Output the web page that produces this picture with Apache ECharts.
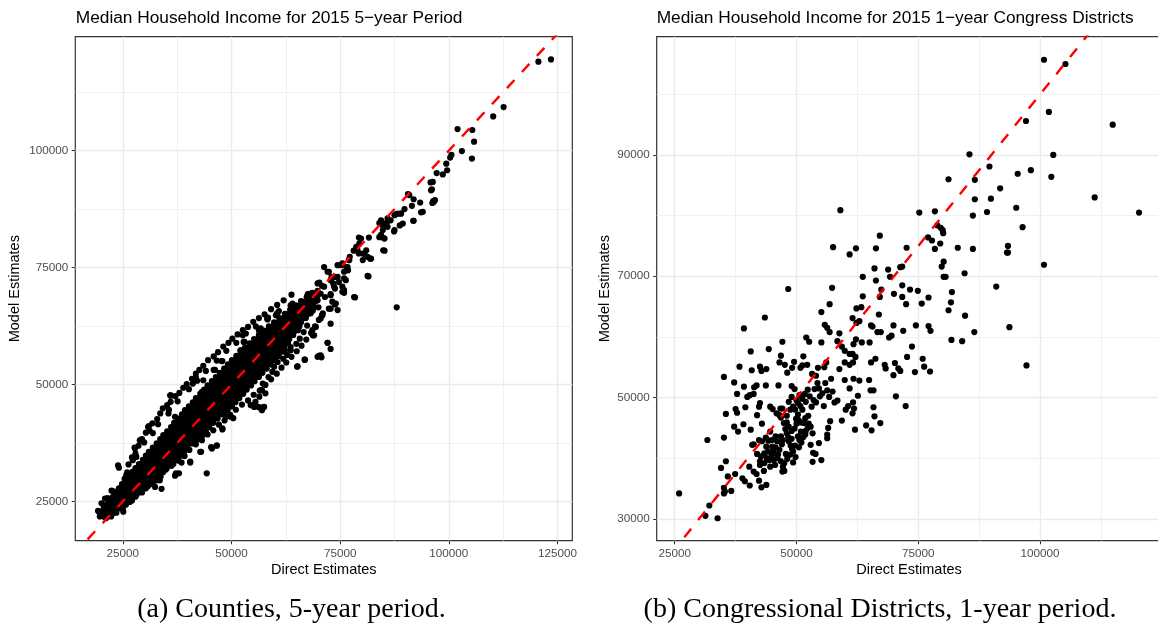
<!DOCTYPE html>
<html><head><meta charset="utf-8">
<script src="https://cdn.jsdelivr.net/npm/echarts@6.0.0/dist/echarts.min.js"></script>
<style>html,body{margin:0;padding:0;background:#fff}#c{width:1158px;height:630px}</style>
</head><body><div id="c"></div>
<script>
// ---------- texts ----------
const leftTitle = 'Median Household Income for 2015 5\u2212year Period';
const rightTitle = 'Median Household Income for 2015 1\u2212year Congress Districts';
const xName = 'Direct Estimates';
const yName = 'Model Estimates';
const captionA = '(a) Counties, 5-year period.';
const captionB = '(b) Congressional Districts, 1-year period.';

// ---------- ticks ----------
const countyTicks = [25000, 50000, 75000, 100000, 125000];
const countyMinor = [37500, 62500, 87500, 112500];
const districtXTicks = [25000, 50000, 75000, 100000];
const districtXMinor = [37500, 62500, 87500, 112500];
const districtYTicks = [30000, 50000, 70000, 90000];
const districtYMinor = [40000, 60000, 80000, 100000];
const identityLine = [10000, 140000];

// ---------- county data (dense core: each row = [model, direct, direct, ...]) ----------
const countyCoreRows = [
 [21800, 19700, 20600, 21500, 22300],
 [22600, 20100, 21000, 21900, 22800, 23500],
 [23500, 20600, 21600, 22400, 23300, 24200, 25000],
 [24300, 21300, 22100, 23100, 24000, 24800, 25700],
 [25200, 21800, 22800, 23600, 24600, 25400, 26300, 27100],
 [26000, 22700, 23500, 24300, 25200, 26200, 27000, 27900],
 [26900, 23300, 24200, 25100, 26000, 26800, 27800, 28600, 29400],
 [27800, 24100, 25000, 25800, 26700, 27700, 28500, 29400, 30300],
 [28700, 24800, 25700, 26700, 27500, 28400, 29300, 30200, 31100, 31800],
 [29500, 25600, 26500, 27400, 28300, 29200, 30100, 31000, 31800, 32700],
 [30400, 26500, 27300, 28200, 29100, 30000, 30900, 31800, 32600, 33500],
 [31300, 27200, 28100, 29000, 29900, 30800, 31600, 32500, 33400, 34300],
 [32100, 27900, 28900, 29700, 30600, 31500, 32400, 33300, 34200, 35100],
 [33000, 28700, 29600, 30500, 31400, 32300, 33200, 34100, 35000, 35900, 36600],
 [33900, 29600, 30400, 31300, 32200, 33100, 34000, 34900, 35800, 36600, 37500],
 [34800, 30300, 31200, 32100, 33000, 33900, 34800, 35700, 36500, 37400, 38400],
 [35600, 31000, 32000, 32900, 33800, 34600, 35500, 36400, 37300, 38200, 39100],
 [36500, 31900, 32800, 33700, 34600, 35500, 36400, 37300, 38100, 39000, 39800],
 [37400, 32800, 33700, 34500, 35400, 36300, 37200, 38100, 39000, 39900, 40800, 41500],
 [38300, 33600, 34500, 35400, 36300, 37200, 38000, 38900, 39800, 40700, 41600, 42400],
 [39200, 34300, 35300, 36200, 37100, 38000, 38900, 39800, 40700, 41600, 42500, 43400],
 [40000, 35200, 36100, 37000, 37900, 38800, 39700, 40600, 41400, 42300, 43200, 44100],
 [40900, 36100, 36900, 37800, 38700, 39600, 40500, 41400, 42300, 43200, 44100, 44900],
 [41800, 36800, 37800, 38700, 39600, 40500, 41400, 42300, 43200, 44000, 44900, 45800],
 [42700, 37700, 38600, 39500, 40400, 41300, 42200, 43100, 44000, 44900, 45800, 46800],
 [43600, 38600, 39500, 40400, 41300, 42200, 43100, 44000, 44900, 45800, 46700, 47500, 48300],
 [44500, 39300, 40300, 41200, 42100, 43000, 43900, 44800, 45700, 46600, 47500, 48400, 49100],
 [45300, 40200, 41100, 42000, 42900, 43800, 44700, 45600, 46500, 47400, 48300, 49200, 50100],
 [46200, 41100, 42000, 42900, 43800, 44700, 45600, 46500, 47400, 48300, 49200, 50100, 50900],
 [47100, 41800, 42800, 43700, 44600, 45500, 46400, 47300, 48200, 49100, 50000, 50900, 51800],
 [48000, 42800, 43700, 44600, 45500, 46400, 47300, 48200, 49100, 50000, 50900, 51800, 52700],
 [48900, 43700, 44600, 45500, 46400, 47300, 48200, 49100, 50000, 50900, 51800, 52700, 53500],
 [49800, 44500, 45500, 46400, 47300, 48200, 49100, 50000, 50900, 51800, 52700, 53600, 54500],
 [50700, 45500, 46400, 47300, 48200, 49100, 50000, 50900, 51800, 52700, 53600, 54500, 55300],
 [51600, 46400, 47300, 48200, 49100, 50000, 50900, 51800, 52700, 53600, 54500, 55400, 56300],
 [52500, 47300, 48200, 49100, 50000, 50900, 51800, 52700, 53600, 54500, 55400, 56300, 57100],
 [53400, 48300, 49100, 50000, 50900, 51800, 52700, 53600, 54500, 55400, 56300, 57200, 58100],
 [54300, 49200, 50100, 51000, 51900, 52800, 53700, 54600, 55500, 56400, 57300, 58200, 59000],
 [55200, 50100, 51000, 51900, 52800, 53700, 54600, 55500, 56400, 57300, 58200, 59100, 59900],
 [56100, 51100, 52000, 52900, 53800, 54700, 55600, 56500, 57400, 58300, 59200, 60100, 60900],
 [57000, 52100, 53000, 53900, 54800, 55700, 56600, 57500, 58400, 59300, 60200, 61000, 61700],
 [57900, 53100, 54000, 54900, 55800, 56700, 57600, 58500, 59400, 60300, 61200, 62100],
 [58800, 54200, 55100, 56000, 56900, 57800, 58700, 59600, 60500, 61400, 62300, 63000],
 [59700, 55200, 56100, 57000, 57900, 58800, 59700, 60600, 61500, 62400, 63300],
 [60600, 56300, 57200, 58100, 59000, 59900, 60800, 61700, 62600, 63500, 64200],
 [61500, 57400, 58300, 59200, 60100, 61000, 61900, 62800, 63700, 64600],
 [62400, 58600, 59500, 60400, 61300, 62200, 63100, 64000, 64900, 65600],
 [63300, 59800, 60700, 61600, 62500, 63400, 64300, 65200, 66000],
 [64200, 61000, 61900, 62800, 63700, 64600, 65500, 66400, 67100],
 [65100, 62300, 63200, 64100, 65000, 65900, 66800, 67600],
 [66000, 63500, 64500, 65400, 66300, 67200, 68100],
 [66900, 64800, 65800, 66800, 67800, 68700],
 [67800, 66000, 67100, 68200, 69300],
 [68700, 67300, 68500, 69700],
 [69600, 68600, 69900]
];

// ---------- county data: fringe of the dense band ([direct, model]) ----------
const countyFringe = [
 [24600,27600],[25400,29800],[26000,31200],[26300,32900],[27100,34400],[27900,35200],[28600,36900],[29400,38300],
 [30300,39700],[31200,40100],[31800,41700],[32900,42600],[33600,43800],[34200,44900],[35200,45600],[36000,46300],
 [37100,47500],[38000,48200],[38900,49300],[39700,50100],[40900,51200],[41800,52300],[42600,53100],[43500,54000],
 [44600,55200],[45900,56000],[46900,56900],[48100,58100],[49300,58900],[50200,59800],[51400,60700],[52600,61600],
 [53800,62300],[55000,63400],[56300,64200],[57600,65000],[59100,66100],[60500,67000],[62000,68000],[63800,69200],
 [25800,30600],[27300,33800],[29900,37600],[31900,39600],[33100,41500],[35600,44600],[37600,46400],[40200,49000],
 [42100,50800],[44100,52900],[46600,55100],[48800,57200],[51100,58900],[53300,60900],[55600,62400],[58400,64300],
 [60900,65700],
 [25100,22800],[26600,24900],[28100,26300],[29300,27100],[30900,28600],[32200,29400],[33700,30300],[34900,31800],
 [36200,32600],[37800,33700],[39200,34700],[40300,36000],[41800,37200],[43200,38100],[44500,39300],[45800,40200],
 [47100,41400],[48400,42300],[49700,43500],[51000,44600],[52400,45700],[53800,46600],[55100,47800],[56500,48700],
 [57800,49900],[59100,51100],[60400,52300],[61500,53600],[62600,54700],[63800,55900],[65000,57100],[66100,58300],
 [67200,59600],[68300,61000],[69200,62400],[70100,63800],[71000,65200]
];

// ---------- county data (individually read points: [direct, model]) ----------
const countyScatter = [
 [120600,119000],[123500,119500],[112600,109300],[110200,107300],[102000,104600],[105400,104400],[105800,101900],
 [103000,99900],[105300,98300],[100600,99100],[100300,98500],[99400,97200],[99600,95800],[97200,95200],[98600,94900],
 [95800,93200],[96100,91700],[96400,89200],[96200,88800],[90600,90700],[91900,89600],[93400,88900],[91500,88200],
 [93600,86800],[91800,85000],[89800,87500],[88000,86500],[88900,86600],[85900,85500],[86600,85100],[84000,84500],
 [84900,83800],[85700,84500],[87400,82700],[88700,84000],[84400,82000],[85000,81300],[79300,81400],[81600,81400],
 [84900,78700],[81300,73200],[81900,76900],[80200,76600],[79300,78000],[78100,78600],[78700,79400],[81000,78700],
 [80600,77900],[78200,68700],[71300,75100],[74400,75500],[75500,75900],[76400,75100],[77000,76600],[72400,74100],
 [73000,73000],[73800,73000],[74700,71900],[75900,72700],[76800,74400],[77200,77300],[70200,71800],[70800,71100],
 [73400,71600],[73800,70500],[75500,70900],[75900,69600],[67600,69300],[68100,68700],[69100,69400],[69800,70000],
 [72800,69300],[71500,68700],
 [88000,66500],[73800,67100],[72400,66200],[70800,64800],[68700,65800],[70000,66500],[66600,66900],[67900,67400],
 [65700,65500],[64900,64400],[64000,67100],[63600,65500],[62800,64400],[60200,64800],[58300,63900],[62300,63000],
 [61500,62300],[64000,61900],[65300,61600],[66600,61200],[67400,62600],[68700,60500],[72100,58900],[72800,57600],
 [69800,55900],[70500,56200],[66800,55300],[65100,53800],[65700,59800],[64900,58700],[63600,58000],[62300,57300],
 [62800,56300],[61900,55500],[60200,56600],[60600,54800],[59800,53800],[59400,52700],[58500,51600],[57200,50200],
 [56800,48800],[57200,45100],[55200,45200],[56400,47400],[55500,46300],[56400,61600],[58100,60200],[56000,59100],
 [57200,58000],[56400,57000],[58100,55900],[52600,60500],[53000,59100],[52100,57300],[51300,55900],[47900,55000],
 [46200,53100],[48500,53400],[41800,51400],[43500,50900],[41100,50200],[43200,48400],[46000,49200],[47000,46700],
 [47900,44500],[48700,43100],[50400,42800],[47900,40600],[46600,36900],[45300,36600],[43000,35600],[44300,31000],
 [40500,33300],[37900,31000],[37200,31000],[36000,47600],[31000,41100],[29000,38100],[27700,36500],[23900,32700],
 [24100,32200],[23000,27100],[19400,22900],[20500,22500],[21100,21400],[22400,22200],[22800,23900],[21500,25700],
 [21900,24600],[24900,24600],[26200,25400],[27000,26800],[28300,28200],[25800,28900],[24900,27500],
 [36000,47700],[28900,38000],[27800,36300],[30800,40900],[28100,34500],[35500,43800],[37000,43100],
 [40500,33500],[38500,33300],[45500,36300],[46600,37000],[42800,35600],[47900,40400],[54500,45600],[57000,44500],
 [56200,45200],[57800,48100],[57000,48800],[20900,25600],[20100,24600],[19300,23000],[20900,21900],[22400,27300],
 [24700,28100],[25800,29500],[27000,30900],[28100,29500],[30800,28300],[33500,29500],[37000,30500],[32400,28100],
 [33900,27700],
 [41700,51400],[35900,47700],[47700,55000],[45900,53100],[52100,57300],[52800,59100],[56300,61600],[56700,62000],
 [58200,64100],[60500,65000],[63600,66900],[64400,66600],[67500,69100],[67800,69400],[69800,71600],[72100,58900],
 [66900,55300],[70100,56100],[70700,55800],[65200,53900],[68600,61600],[69000,60500],[70900,64800],[72800,66200],
 [75500,69800],[62100,58000],[63600,57300],[56700,44900],[57500,45200],[54400,45600],[49800,43100],[42100,46700],
 [81500,73100],[78400,68600],[85200,78600],[82100,76900],[91900,85000],[94000,86900],[96500,89000],[96800,89400],
 [95900,91500],[96300,93300],[90900,90500],[89000,86500],[89400,84400],[87500,86200],[88200,86500],[84400,85100],
 [85200,84400],[85900,83700],[84800,83000],[87500,83000],[84000,81500],[85200,81200],[79800,81200],[79400,80100],
 [79000,78700],[80200,78000],[81300,77300],[77100,76600],[76700,75100],[75200,75500],[75900,74100],[74400,73000],
 [72100,74100],[72800,72300],[73600,70900],[76300,72300],[75900,70200],[71300,70900],[70500,69400],[69800,68000],
 [72800,69100],[73200,67700],[69000,66600],[68200,65200],[66700,66600],[67500,65200],[65900,63700],[64000,67300],
 [60500,65200],[74000,67300],[74400,65900],[70500,64100],[72800,63000],[69400,62300]
];

// ---------- congressional district data ----------
const districtDirect = [
 100800,105200,101800,97100,114900,85500,102700,89600,95400,98100,102300,81200,86600,91800,86600,89900,111200,120300,
 59000,75200,78400,89100,95100,86200,96400,78900,79600,80000,80100,67100,77000,77800,79500,57500,62200,66300,72600,
 78400,83100,86200,93400,93400,93200,60900,100800,80200,79800,66000,68800,71300,71700,63600,69200,80200,80600,84500,
 66300,48300,57300,71700,67400,73300,74900,81900,91000,70000,63600,67100,71700,77100,
 56800,62300,63300,72500,75700,81700,81200,84600,93700,86500,81800,84000,97200,43500,39200,55100,55800,56300,56800,
 66900,65300,65600,62900,62300,61500,69900,71900,74500,77100,77500,66600,67300,69000,69500,58800,58400,52000,52600,
 55100,61700,62200,63400,65000,73700,59300,59900,60900,61500,62100,51400,46800,47100,40600,44300,38300,40800,42500,
 42800,43800,46500,47600,48100,49500,49100,50800,51200,52200,54400,54000,56100,58800,59900,60900,61600,65300,66200,
 68100,68300,70200,71300,70900,69900,72700,75900,76200,74300,77400,35100,37200,39200,41300,41800,43700,46300,49000,
 49600,37800,40400,41200,39900,49000,50000,50600,51200,51700,52700,53500,53700,54300,54600,55300,56300,57400,56700,
 54000,55600,58400,59900,61700,62900,60900,62600,64900,65200,65800,60600,61600,61800,60100,61500,65800,66000,67200,
 64300,65400,62000,70400,72400,57800,59300,56900,56500,56300,56300,54600,53900,53300,55100,51800,52500,51900,53300,
 52900,37500,39500,35500,37800,42500,42300,44600,45100,46700,47100,45900,46500,41900,47400,48000,46800,48400,49000,
 49900,50300,50900,51200,51500,49300,49700,50300,50800,39100,37200,38000,40600,42900,35100,31700,41200,40900,42300,
 42900,43700,44200,45000,45700,46800,47200,48800,48400,49000,49700,49100,50600,51400,46500,46200,41900,42700,43400,
 44200,45000,42500,43400,44400,45300,46100,47800,48700,49300,46800,47500,49300,47200,47500,47100,40300,41200,41800,
 42500,43300,38900,39400,40400,34500,35500,37400,35900,35100,35300,35100,36600,42300,42800,43800,25900,32100,31300,
 33800,48400,48700,48000,50000,50900,51800,52300,52900,53400,50300,48000,44600,45700,43800,44600,45300,
 47700,48300,49600,50500,51000,47000,46000,44900,43900,44800,45600,48100,49800,50400,52400,53100,51900,52300,54800,
 55900,57100,53200,55700
];
const districtModel = [
 105700,105000,97100,95600,95000,90100,90000,88100,86900,87500,86400,86000,85900,84500,82700,82800,83000,80500,
 80900,80500,80700,80600,81300,80000,78100,78400,78000,77600,77100,76700,76400,75900,75400,74800,74600,74600,74700,
 74500,74700,74500,75000,73900,73900,73600,71900,72400,71600,71300,71100,71500,71600,69900,69900,69900,69900,70500,
 69300,67900,68100,68500,67800,67800,67600,67400,68300,67100,66700,66600,66600,66500,
 65400,64700,64900,65400,65500,65700,64400,63500,61600,60800,59500,59300,55300,63200,61400,64100,62000,61500,60800,
 63700,61900,61700,62600,62300,63100,61900,61000,61900,61800,61000,60800,60800,59900,60200,60600,59300,59900,59200,
 59100,58800,59600,59100,59100,58400,58400,57700,57200,57200,56700,56800,56900,59200,57600,58000,55100,54500,55100,
 54400,54700,55800,55400,54100,55900,54900,54900,55300,55400,54900,53600,55800,54700,55800,55400,55800,55800,56400,
 55400,54800,55700,54400,54800,53700,56700,56400,55100,54200,54300,53400,52500,51800,51700,52000,52000,52000,51900,
 51400,50600,50400,50600,50100,50100,49500,50400,49800,50600,50200,49600,51400,52400,51500,50700,51200,51000,50100,
 49200,48600,49500,52900,53100,52800,51500,50300,52900,51200,51200,48600,49200,48200,48000,47400,48400,46900,45800,
 45400,44600,44700,50200,48600,49200,46200,46100,45000,43900,43300,42500,40700,39400,39700,46600,45700,44500,44100,
 45200,48100,48400,47300,47500,49100,48500,48500,48100,48200,48200,47400,47100,47100,45800,45900,46700,45200,44500,
 46500,47200,45900,48000,45800,48500,48000,49100,48600,45600,45200,44400,44700,45700,43400,43000,42300,42200,43000,
 42800,43400,42900,41900,41800,43600,43000,42100,42800,43200,42100,41500,43000,43500,41400,40600,40700,40300,40800,
 41100,40600,39500,39200,39700,39700,40000,40700,40600,41100,39500,39200,39300,38600,37900,37800,38600,37800,37400,
 38900,37900,36700,36200,35500,38400,39500,37400,37000,35100,34500,34200,34600,36300,35200,35600,34200,32200,30500,
 30100,49300,48000,47000,45700,44400,43900,45000,42200,40900,43600,44100,44400,43600,41900,38600,41100,
 44800,43500,44900,41800,42600,42300,42800,43000,40000,40100,38900,39900,40200,46300,47000,48500,49300,51300,50200,
 52400,53100,53900,55000
];

// ---------- build ----------
const countyData = countyCoreRows.flatMap(r => r.slice(1).map(d => [d, r[0]])).concat(countyFringe, countyScatter);
const districtData = districtDirect.map((d, i) => [d, districtModel[i]]);
const refData = identityLine.map(v => [v, v]);

const SANS = 'Liberation Sans, Arial, Helvetica, sans-serif';
const SERIF = 'Liberation Serif, Times New Roman, serif';
const majorLine = {show: true, lineStyle: {color: '#EBEBEB', width: 1.4}};
const minorLine = {show: true, lineStyle: {color: '#EBEBEB', width: 0.7}};
const tickStyle = {color: '#333333', width: 1};
const labelStyle = {color: '#4D4D4D', fontSize: 11.7, fontFamily: SANS};

function mainAxis(grid, min, max, ticks, isY) {
  return {
    type: 'value', gridIndex: grid, min: min, max: max, position: isY ? 'left' : 'bottom',
    axisLine: {show: false},
    axisTick: {show: true, customValues: ticks, length: 3.6, lineStyle: tickStyle},
    axisLabel: Object.assign({customValues: ticks, margin: 7, hideOverlap: false, showMinLabel: true, showMaxLabel: true,
      formatter: v => String(v)}, labelStyle),
    splitLine: majorLine, minorTick: {show: false}, minorSplitLine: {show: false}
  };
}
function minorAxis(grid, min, max, ticks, isY) {
  return {
    type: 'value', gridIndex: grid, min: min, max: max, position: isY ? 'right' : 'top',
    axisLine: {show: false},
    axisTick: {show: false, customValues: ticks},
    axisLabel: {show: false, customValues: ticks},
    splitLine: minorLine
  };
}

const chart = echarts.init(document.getElementById('c'), null, {renderer: 'canvas', width: 1158, height: 630});
chart.setOption({
  animation: false,
  backgroundColor: '#ffffff',
  grid: [
    {left: 75.3, top: 36.7, width: 497, height: 504, show: true, borderColor: '#333333', borderWidth: 1.2, backgroundColor: '#ffffff', containLabel: false, outerBoundsMode: 'none'},
    {left: 656.7, top: 36.7, width: 505.2, height: 504, show: true, borderColor: '#333333', borderWidth: 1.2, backgroundColor: '#ffffff', containLabel: false, outerBoundsMode: 'none'}
  ],
  xAxis: [
    mainAxis(0, 14060, 128400, countyTicks, false),
    minorAxis(0, 14060, 128400, countyMinor, false),
    mainAxis(1, 21300, 125000, districtXTicks, false),
    minorAxis(1, 21300, 125000, districtXMinor, false)
  ],
  yAxis: [
    mainAxis(0, 16600, 124350, countyTicks, true),
    minorAxis(0, 16600, 124350, countyMinor, true),
    mainAxis(1, 26400, 109500, districtYTicks, true),
    minorAxis(1, 26400, 109500, districtYMinor, true)
  ],
  series: [
    {type: 'scatter', xAxisIndex: 0, yAxisIndex: 0, data: countyData, symbol: 'circle', symbolSize: 6.2,
     itemStyle: {color: '#000000', opacity: 1}, z: 3, silent: true, large: false, progressive: 0},
    {type: 'line', xAxisIndex: 0, yAxisIndex: 0, data: refData, symbol: 'none', showSymbol: false, clip: true, z: 4, silent: true,
     lineStyle: {color: '#FF0000', width: 2.4, type: [11, 11]}},
    {type: 'scatter', xAxisIndex: 2, yAxisIndex: 2, data: districtData, symbol: 'circle', symbolSize: 6.2,
     itemStyle: {color: '#000000', opacity: 1}, z: 3, silent: true, large: false, progressive: 0},
    {type: 'line', xAxisIndex: 2, yAxisIndex: 2, data: refData, symbol: 'none', showSymbol: false, clip: true, z: 4, silent: true,
     lineStyle: {color: '#FF0000', width: 2.4, type: [11, 11]}}
  ],
  graphic: [
    {type: 'text', x: 75.8, y: 18, style: {text: leftTitle, fontSize: 17.3, fontFamily: SANS, fill: '#000', textAlign: 'left', textVerticalAlign: 'middle'}},
    {type: 'text', x: 656.7, y: 18, style: {text: rightTitle, fontSize: 17.3, fontFamily: SANS, fill: '#000', textAlign: 'left', textVerticalAlign: 'middle'}},
    {type: 'text', x: 323.8, y: 570.2, style: {text: xName, fontSize: 14.5, fontFamily: SANS, fill: '#000', textAlign: 'center', textVerticalAlign: 'middle'}},
    {type: 'text', x: 909, y: 570.2, style: {text: xName, fontSize: 14.5, fontFamily: SANS, fill: '#000', textAlign: 'center', textVerticalAlign: 'middle'}},
    {type: 'text', x: 15, y: 288.7, rotation: Math.PI / 2, style: {text: yName, fontSize: 14.5, fontFamily: SANS, fill: '#000', textAlign: 'center', textVerticalAlign: 'middle'}},
    {type: 'text', x: 604.5, y: 288.7, rotation: Math.PI / 2, style: {text: yName, fontSize: 14.5, fontFamily: SANS, fill: '#000', textAlign: 'center', textVerticalAlign: 'middle'}},
    {type: 'text', x: 291.5, y: 610, style: {text: captionA, fontSize: 28, fontFamily: SERIF, fill: '#000', textAlign: 'center', textVerticalAlign: 'middle'}},
    {type: 'text', x: 880, y: 610, style: {text: captionB, fontSize: 28, fontFamily: SERIF, fill: '#000', textAlign: 'center', textVerticalAlign: 'middle'}}
  ]
});
</script>
</body></html>
